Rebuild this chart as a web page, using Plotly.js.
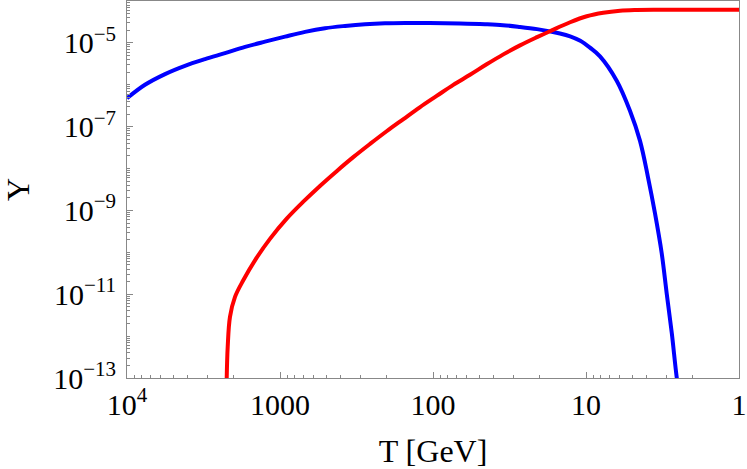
<!DOCTYPE html>
<html>
<head>
<meta charset="utf-8">
<script src="https://cdn.plot.ly/plotly-3.0.1.min.js"></script>
<style>
  html, body { margin: 0; padding: 0; background: #fff; }
  #plot { width: 747px; height: 469px; }
</style>
</head>
<body>
<div id="plot"></div>
<script>
// blue curve
var blueT = [10000, 7630, 5640, 4180, 3090, 2290, 1690, 1253, 927, 686, 508, 376, 278, 206, 152,
  105, 66.6, 45.7, 34.9, 27.0, 20.9, 17.2, 14.8, 12.7, 10.9, 9.42, 8.10, 6.30, 5.16, 4.44, 3.93,
  3.54, 3.20, 2.97, 2.75, 2.55, 2.43];
var blueY = [4.77e-7, 1.0e-6, 1.80e-6, 2.83e-6, 4.09e-6, 5.69e-6, 8.03e-6, 1.07e-5, 1.41e-5,
  1.83e-5, 2.24e-5, 2.54e-5, 2.79e-5, 2.94e-5, 2.99e-5, 2.99e-5, 2.91e-5, 2.79e-5, 2.65e-5,
  2.40e-5, 2.13e-5, 1.88e-5, 1.68e-5, 1.43e-5, 1.12e-5, 7.68e-6, 4.77e-6, 1.25e-6, 2.40e-7,
  4.64e-8, 6.10e-9, 8.48e-10, 9.47e-11, 1.06e-11, 1.18e-12, 1e-13, 3.3e-14];

// red curve
var redT = [2237, 2230, 2197, 2123, 1968, 1738, 1457, 1163, 904, 704, 548, 426, 332, 258, 201,
  156, 122, 94.6, 73.7, 57.3, 44.6, 34.7, 27.0, 20.9, 17.2, 12.7, 9.89, 7.71, 5.99, 4.66, 3.63, 1];
var redY = [3.0e-14, 1e-13, 5.56e-13, 2.88e-12, 8.63e-12, 2.15e-11, 6.45e-11, 2.10e-10, 6.38e-10,
  1.62e-9, 3.85e-9, 8.67e-9, 1.87e-8, 3.87e-8, 7.77e-8, 1.52e-7, 2.90e-7, 5.41e-7, 9.95e-7,
  1.73e-6, 3.08e-6, 5.32e-6, 8.72e-6, 1.37e-5, 1.90e-5, 3.11e-5, 4.32e-5, 5.24e-5, 5.84e-5,
  6.10e-5, 6.21e-5, 6.21e-5];

var xTickVals = [1e4, 1000, 100, 10, 1];
var xTickText = ["10<sup>4</sup>", "1000", "100", "10", "1"];
var yTickVals = [1e-13, 1e-11, 1e-9, 1e-7, 1e-5];
var yTickText = ["10<sup>\u221213</sup>", "10<sup>\u221211</sup>", "10<sup>\u22129</sup>",
  "10<sup>\u22127</sup>", "10<sup>\u22125</sup>"];

// minor ticks k x 10^n
function minorTicks(lo, hi) {
  var out = [];
  for (var n = lo; n < hi; n++) {
    for (var k = 1; k <= 9; k++) out.push(k * Math.pow(10, n));
  }
  return out;
}

var frame = "#888888";
var serif = "Liberation Serif, Times New Roman, serif";

var data = [
  {
    x: blueT, y: blueY, type: "scatter", mode: "lines",
    line: { color: "#0000ff", width: 4, shape: "spline", smoothing: 1 },
    hoverinfo: "skip"
  },
  {
    x: redT, y: redY, type: "scatter", mode: "lines",
    line: { color: "#ff0000", width: 4, shape: "spline", smoothing: 1 },
    hoverinfo: "skip"
  }
];

var layout = {
  width: 747,
  height: 469,
  margin: { l: 127, r: 8, t: 1, b: 91 },
  paper_bgcolor: "#fff",
  plot_bgcolor: "#fff",
  showlegend: false,
  font: { family: serif, color: "#000", size: 29 },
  xaxis: {
    type: "log",
    range: [4, 0],
    showgrid: false,
    zeroline: false,
    showline: true,
    mirror: true,
    linecolor: frame,
    linewidth: 1,
    ticks: "inside",
    ticklen: 6,
    tickcolor: frame,
    tickmode: "array",
    tickvals: xTickVals,
    ticktext: xTickText,
    tickfont: { family: serif, size: 30, color: "#000" },
    minor: { ticks: "inside", ticklen: 3, tickcolor: frame, tickmode: "array", tickvals: minorTicks(0, 4), showgrid: false },
    title: { text: "T [GeV]", font: { family: serif, size: 32, color: "#000" }, standoff: 19 }
  },
  yaxis: {
    type: "log",
    range: [-13, -4],
    showgrid: false,
    zeroline: false,
    showline: true,
    mirror: true,
    linecolor: frame,
    linewidth: 1,
    ticks: "inside",
    ticklen: 6,
    tickcolor: frame,
    tickmode: "array",
    tickvals: yTickVals,
    ticktext: yTickText,
    tickfont: { family: serif, size: 30, color: "#000" },
    ticklabelstandoff: 4,
    minor: { ticks: "inside", ticklen: 3, tickcolor: frame, tickmode: "array", tickvals: minorTicks(-13, -4), showgrid: false },
    title: { text: "Y", font: { family: serif, size: 32, color: "#000" }, standoff: 14 }
  }
};

var config = { staticPlot: true, displayModeBar: false };

Plotly.newPlot("plot", data, layout, config);
</script>
</body>
</html>
